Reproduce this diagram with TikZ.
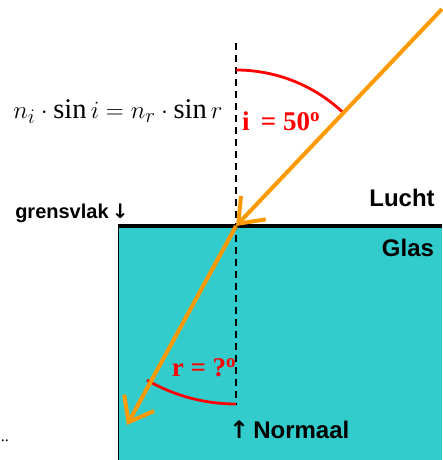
\documentclass[tikz,border=0pt]{standalone}
\usepackage{fontspec}
\setmainfont{Liberation Serif}
\setsansfont{Liberation Sans}
\newfontfamily\pijlfont{DejaVu Sans}
\usetikzlibrary{arrows.meta,calc}
\definecolor{glas}{HTML}{33CCCC}
\definecolor{straal}{HTML}{FF9900}
\definecolor{hoekrood}{HTML}{FF0000}
\tikzset{
  ray/.style     ={draw=straal, line width=4pt, -{Straight Barb[length=22pt,width=34pt]}},
  normaal/.style ={draw=black, line width=1.6pt, dash pattern=on 7pt off 5pt},
  hoekboog/.style={draw=hoekrood, line width=2.8pt},
  hoeklbl/.style ={text=hoekrood, font=\fontsize{27}{30}\selectfont\bfseries, inner sep=0pt},
  medium/.style  ={font=\fontsize{24}{26}\selectfont\sffamily\bfseries, inner sep=0pt},
}
\begin{document}
\begin{tikzpicture}[x=1pt,y=-1pt]
\useasboundingbox (0,0) rectangle (442,460);
% glas en grensvlak
\fill[glas] (118,226) rectangle (442,462);
\draw[line width=1pt] (118,226) -- (118,462);
\coordinate (links) at (118,226);
\coordinate (rechts) at (442,226);
\draw[line width=3.5pt] (links) -- (rechts);
% normaal
\coordinate (punt) at (236,226);
\coordinate (nboven) at (236,43);
\coordinate (nonder) at (236,405);
\draw[normaal] (nboven) -- (nonder);
% hoeken
\draw[hoekboog] ($(punt)+(-90:156)$) arc (-90:-46:156);
\draw[hoekboog] ($(punt)+(90:178)$) arc (90:120:178);
% stralen
\coordinate (bron) at (442,9);
\coordinate (eind) at (127,425);
\draw[ray] (bron) -- (punt);
\draw[ray] (punt) -- (eind);
% teksten
\node (wet) at (118,112) {\fontsize{28.5}{32}\selectfont$n_i\cdot\sin i = n_r\cdot\sin r$};
\node[hoeklbl, anchor=west] (ilbl) at (242,121) {i\, = 50\textsuperscript{o}};
\node[hoeklbl] (rlbl) at (204,368) {r = ?\textsuperscript{o}};
\node[medium] (lucht) at (402,198) {Lucht};
\node[medium] (glaslbl) at (408,248) {Glas};
\node[medium, font=\fontsize{20}{22}\selectfont\sffamily\bfseries] (grens) at (72,213) {grensvlak\,{\pijlfont↓}};
\node[medium, anchor=west] (norm) at (229,430) {{\pijlfont↑}\,Normaal};
\node[inner sep=0pt, font=\fontsize{16}{16}\selectfont] (puntjes) at (5,441) {..};
\end{tikzpicture}
\end{document}
